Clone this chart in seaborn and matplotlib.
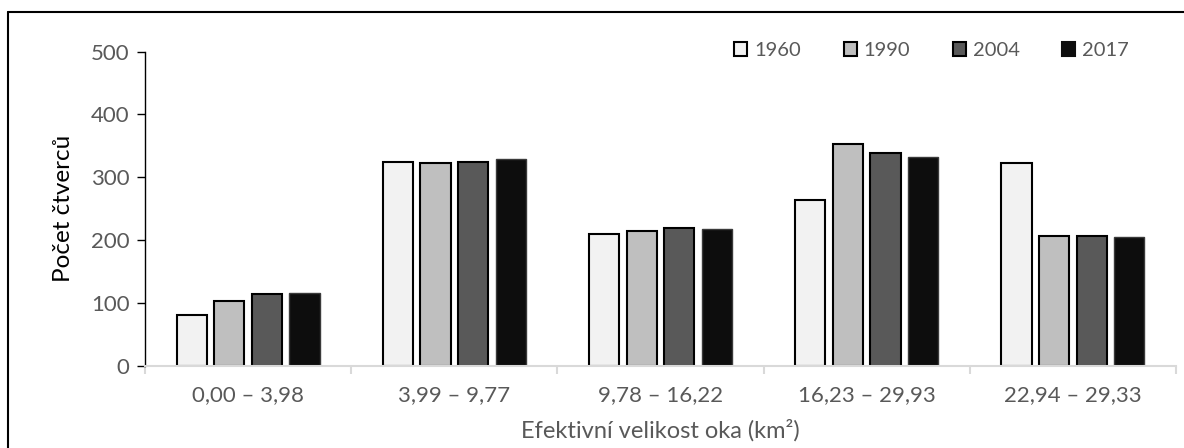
import matplotlib
matplotlib.use("Agg")
import matplotlib.pyplot as plt
import seaborn as sns
import pandas as pd
from matplotlib.lines import Line2D
from matplotlib.patches import Patch

categories = ["0,00 – 3,98", "3,99 – 9,77", "9,78 – 16,22", "16,23 – 29,93", "22,94 – 29,33"]
years = ["1960", "1990", "2004", "2017"]
v1960 = [80, 324, 210, 264, 323]
v1990 = [102, 323, 215, 353, 207]
v2004 = [114, 325, 219, 338, 206]
v2017 = [115, 329, 217, 333, 204]
yticks = [0, 100, 200, 300, 400, 500]
colors = ["#f2f2f2", "#bfbfbf", "#595959", "#0d0d0d"]

rows = []
for y, vals in zip(years, [v1960, v1990, v2004, v2017]):
    for c, v in zip(categories, vals):
        rows.append({"cat": c, "year": y, "val": v})
df = pd.DataFrame(rows)

sns.set_style("white")
plt.rcParams["font.family"] = ["Lato", "DejaVu Sans"]

fig = plt.figure(figsize=(11.84, 4.48), dpi=100)
ax = fig.add_axes([145/1184, 1 - 365.5/448, (1176-145)/1184, (365.5-51.7)/448])

sns.barplot(data=df, x="cat", y="val", hue="year", hue_order=years, order=categories,
            palette=colors, width=0.73, gap=0.2, edgecolor="black", linewidth=1.5,
            legend=False, ax=ax)
for bar in ax.containers[3]:
    bar.set_edgecolor("#3a3a3a")
    bar.set_linewidth(1.0)

ax.set_ylim(0, 500)
ax.set_yticks(yticks)
ax.set_xlim(-0.5, len(categories) - 0.5)

for s in ["top", "right"]:
    ax.spines[s].set_visible(False)
ax.spines["left"].set_color("black")
ax.spines["left"].set_linewidth(1.0)
ax.spines["bottom"].set_color("#d9d9d9")
ax.spines["bottom"].set_linewidth(1.5)

ax.tick_params(axis="y", direction="out", length=6, width=1, color="black",
               labelcolor="#595959", labelsize=16, left=True, pad=5)
ax.set_xticks(range(len(categories)))
ax.set_xticklabels(categories)
ax.tick_params(axis="x", which="major", length=0, labelcolor="#595959", labelsize=16, pad=14)
ax.set_xticks([i - 0.5 for i in range(len(categories) + 1)], minor=True)
ax.tick_params(axis="x", which="minor", direction="out", length=6, width=1.5, color="#d9d9d9", bottom=True)

ax.set_ylabel("Počet čtverců", fontsize=17.5, color="black", labelpad=12)
ax.set_xlabel("Efektivní velikost oka (km²)", fontsize=17, color="#595959", labelpad=10)

handles = [Patch(facecolor=c, edgecolor="black" if i < 3 else c, linewidth=1.5) for i, c in enumerate(colors)]
leg = ax.legend(handles, years, ncol=4, loc="upper right", bbox_to_anchor=(1143/1184, 1 - 28/448),
                bbox_transform=fig.transFigure, frameon=False, fontsize=14.5,
                handlelength=0.65, handleheight=0.65, handletextpad=0.35, columnspacing=2.1,
                labelcolor="#595959", borderpad=0.2)

fig.add_artist(Line2D([8/1184, 8/1184], [0, 1 - 12/448], transform=fig.transFigure, color="black", lw=1.5))
fig.add_artist(Line2D([8/1184, 1], [1 - 12/448, 1 - 12/448], transform=fig.transFigure, color="black", lw=1.5))

fig.savefig("out.png", dpi=100)
